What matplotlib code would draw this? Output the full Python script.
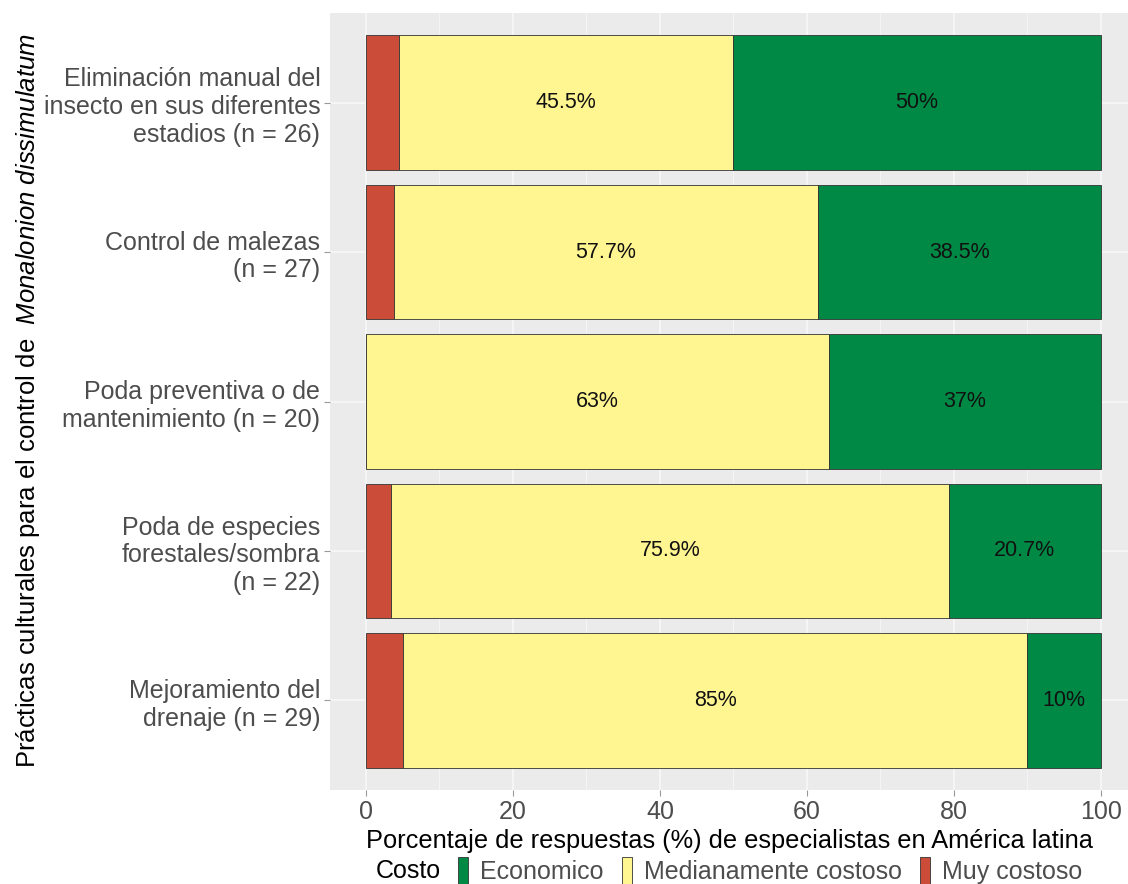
import numpy as np
import matplotlib
matplotlib.use('Agg')
import matplotlib.pyplot as plt
from matplotlib.patches import Patch

plt.rcParams['font.family'] = ['Liberation Sans', 'DejaVu Sans']
plt.rcParams['mathtext.fontset'] = 'custom'
plt.rcParams['mathtext.rm'] = 'Liberation Sans'
plt.rcParams['mathtext.it'] = 'Liberation Sans:italic'

# datos (porcentaje por nivel de costo)
practicas = [
    'Eliminación manual del\ninsecto en sus diferentes\nestadios (n = 26)',
    'Control de malezas\n(n = 27)',
    'Poda preventiva o de\nmantenimiento (n = 20)',
    'Poda de especies\nforestales/sombra\n(n = 22)',
    'Mejoramiento del\ndrenaje (n = 29)',
]
muy_costoso = [4.5, 3.8, 0.0, 3.4, 5.0]
medianamente = [45.5, 57.7, 63.0, 75.9, 85.0]
economico = [50.0, 38.5, 37.0, 20.7, 10.0]

col_muy = '#CC4C3A'
col_med = '#FFF591'
col_eco = '#008945'

fig = plt.figure(figsize=(11.28, 8.84), dpi=100)
ax = fig.add_axes([330 / 1128, 94 / 884, 798 / 1128, 777 / 884])
ax.set_facecolor('#EBEBEB')

y = np.arange(len(practicas))
muy = np.array(muy_costoso)
med = np.array(medianamente)
eco = np.array(economico)

ax.barh(y, muy, height=0.9, color=col_muy, edgecolor='#333333', linewidth=0.6, zorder=3)
ax.barh(y, med, left=muy, height=0.9, color=col_med, edgecolor='#333333', linewidth=0.6, zorder=3)
ax.barh(y, eco, left=muy + med, height=0.9, color=col_eco, edgecolor='#333333', linewidth=0.6, zorder=3)

for i in range(len(practicas)):
    ax.text(muy[i] + med[i] / 2, y[i], f'{med[i]:g}%', ha='center', va='center',
            fontsize=15.5, color='#111111', zorder=4)
    ax.text(muy[i] + med[i] + eco[i] / 2, y[i], f'{eco[i]:g}%', ha='center', va='center',
            fontsize=15.5, color='#111111', zorder=4)

ax.set_xlim(-4.9, 103.7)
ax.set_ylim(len(practicas) - 1 + 0.6, -0.6)
ax.set_xticks([0, 20, 40, 60, 80, 100])
ax.set_xticks([10, 30, 50, 70, 90], minor=True)
ax.set_yticks(y)
ax.set_yticklabels(practicas, fontsize=18, color='#4D4D4D', multialignment='right')
for lab in ax.get_xticklabels():
    lab.set_fontsize(18)
    lab.set_color('#4D4D4D')
ax.tick_params(axis='both', which='major', length=4, color='#999999', pad=3)
ax.tick_params(axis='x', which='minor', length=0)
ax.grid(True, which='major', color='#F7F7F7', linewidth=1.3, zorder=0)
ax.grid(True, which='minor', axis='x', color='#F5F5F5', linewidth=0.7, zorder=0)
for s in ax.spines.values():
    s.set_visible(False)

ax.set_xlabel('Porcentaje de respuestas (%) de especialistas en América latina',
              fontsize=18.3, color='black', labelpad=4)
fig.text(28 / 1128, 1 - 400 / 884,
         r'Prácticas culturales para el control de  $\mathit{Monalonion\ dissimulatum}$',
         rotation=90, ha='center', va='center', fontsize=18.5, color='black')

# leyenda
fig.text(376 / 1128, 1 - 871 / 884, 'Costo', ha='left', va='center', fontsize=18,
         color='black')
handles = [Patch(facecolor=col_eco, edgecolor='#333333', linewidth=0.6),
           Patch(facecolor=col_med, edgecolor='#333333', linewidth=0.6),
           Patch(facecolor=col_muy, edgecolor='#333333', linewidth=0.6)]
leg = fig.legend(handles, ['Economico', 'Medianamente costoso', 'Muy costoso'],
                 loc='center left', bbox_to_anchor=(458 / 1128, 1 - 871 / 884), ncol=3,
                 frameon=False, handlelength=0.4, handleheight=1.3, handletextpad=0.5,
                 columnspacing=0.7, borderaxespad=0, borderpad=0,
                 prop={'size': 18})
for t in leg.get_texts():
    t.set_color('#4D4D4D')

fig.savefig('out.png', dpi=100, facecolor='white')
